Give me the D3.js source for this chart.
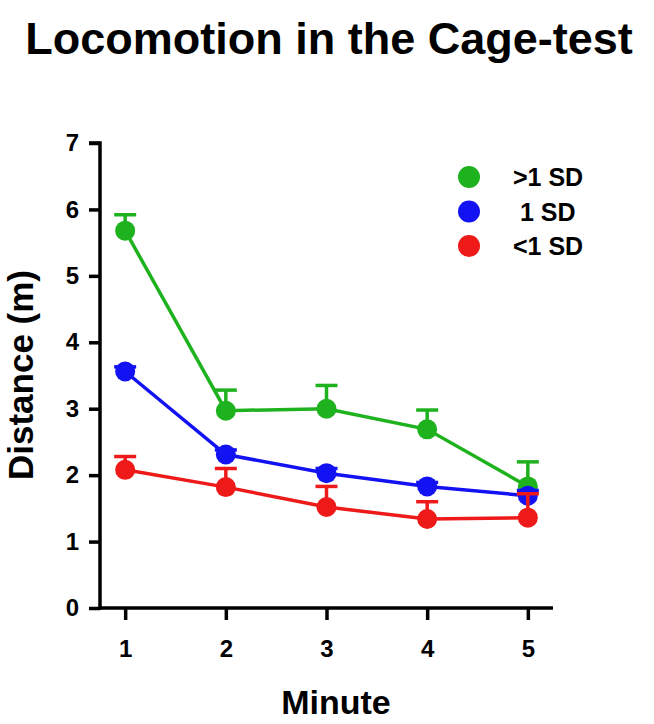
<meta charset="utf-8">
<style>
  body { margin: 0; background: #fff; }
  text { font-family: "Liberation Sans", Arial, sans-serif; font-weight: bold; }
</style>
<svg width="654" height="724"></svg>
<script src="https://d3js.org/d3.v7.min.js"></script>
<script>
var minutes = [1, 2, 3, 4, 5];
var seriesNames = [">1 SD", " 1 SD", "<1 SD"];
var seriesColors = ["#1fb21f", "#1212f2", "#ee1a1a"];
var greenMean = [5.68, 2.97, 3.0, 2.69, 1.83];
var greenErr = [0.24, 0.31, 0.35, 0.29, 0.37];
var blueMean = [3.56, 2.31, 2.03, 1.83, 1.69];
var blueErr = [0.07, 0.07, 0.07, 0.06, 0.08];
var redMean = [2.08, 1.82, 1.52, 1.34, 1.36];
var redErr = [0.2, 0.28, 0.31, 0.26, 0.36];
var yTicks = [0, 1, 2, 3, 4, 5, 6, 7];

var means = [greenMean, blueMean, redMean];
var errs = [greenErr, blueErr, redErr];

var svg = d3.select("svg");

var x = d3.scaleLinear().domain([0.75, 5.25]).range([100, 553]);
var y = d3.scaleLinear().domain([0, 7]).range([608, 143]);

// title
svg.append("text")
  .attr("x", 329).attr("y", 54)
  .attr("text-anchor", "middle")
  .attr("font-size", "45px")
  .text("Locomotion in the Cage-test");

// axes
var yAxis = svg.append("g")
  .attr("transform", "translate(100,0)")
  .call(d3.axisLeft(y).tickValues(yTicks).tickFormat(d3.format("d")).tickSize(11).tickPadding(10));
var xAxis = svg.append("g")
  .attr("transform", "translate(0,608)")
  .call(d3.axisBottom(x).tickValues(minutes).tickFormat(d3.format("d")).tickSize(12).tickPadding(20));

[yAxis, xAxis].forEach(function(a) {
  a.select(".domain").attr("stroke", "#000").attr("stroke-width", 3.5);
  a.selectAll(".tick line").attr("stroke", "#000").attr("stroke-width", 3.5);
  a.selectAll(".tick text").attr("fill", "#000").attr("font-size", "24px")
    .style("font-family", "'Liberation Sans', Arial, sans-serif").style("font-weight", "bold");
});
yAxis.select(".domain").attr("d", "M-11," + y(7) + "H0V" + (y(0) + 1.75));
xAxis.select(".domain").attr("d", "M" + (x(0.75) - 1.75) + ",0H" + x(5.25));

// axis titles
svg.append("text")
  .attr("transform", "translate(33,375) rotate(-90)")
  .attr("text-anchor", "middle")
  .attr("font-size", "35px")
  .text("Distance (m)");
svg.append("text")
  .attr("x", 336).attr("y", 714)
  .attr("text-anchor", "middle")
  .attr("font-size", "34px")
  .text("Minute");

var line = d3.line()
  .x(function(d, i) { return x(minutes[i]); })
  .y(function(d) { return y(d); });

means.forEach(function(m, s) {
  var g = svg.append("g").attr("stroke", seriesColors[s]).attr("fill", seriesColors[s]);
  g.append("path").datum(m)
    .attr("fill", "none").attr("stroke-width", 3.5)
    .attr("d", line);
  g.selectAll("line.err").data(m).enter().append("line")
    .attr("x1", function(d, i) { return x(minutes[i]); })
    .attr("x2", function(d, i) { return x(minutes[i]); })
    .attr("y1", function(d) { return y(d); })
    .attr("y2", function(d, i) { return y(d + errs[s][i]); })
    .attr("stroke-width", 3.5);
  g.selectAll("line.cap").data(m).enter().append("line")
    .attr("x1", function(d, i) { return x(minutes[i]) - 11; })
    .attr("x2", function(d, i) { return x(minutes[i]) + 11; })
    .attr("y1", function(d, i) { return y(d + errs[s][i]); })
    .attr("y2", function(d, i) { return y(d + errs[s][i]); })
    .attr("stroke-width", 3.5);
  g.selectAll("circle").data(m).enter().append("circle")
    .attr("cx", function(d, i) { return x(minutes[i]); })
    .attr("cy", function(d) { return y(d); })
    .attr("r", 10).attr("stroke", "none");
});

// legend
var leg = svg.append("g").attr("transform", "translate(469,177)");
seriesNames.forEach(function(n, i) {
  leg.append("circle").attr("cx", 0).attr("cy", i * 34.5).attr("r", 11)
    .attr("fill", seriesColors[i]);
  leg.append("text").attr("x", 44).attr("y", i * 34.5 + 9)
    .attr("font-size", "25px").style("white-space", "pre")
    .text(n);
});
</script>
